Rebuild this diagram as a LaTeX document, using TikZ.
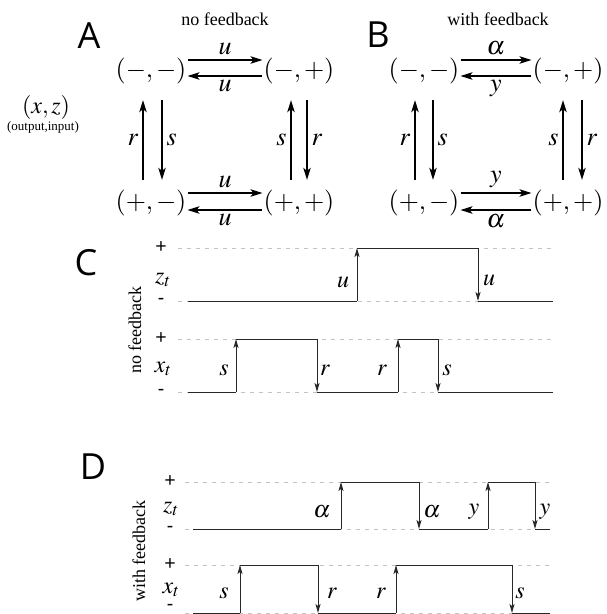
\documentclass[tikz,border=0pt]{standalone}
\usepackage{mathptmx}
\usepackage{fontspec}
\setmainfont{Liberation Serif}
\newfontfamily\panelfont{Open Sans}
\usetikzlibrary{arrows.meta}
\definecolor{guidecolor}{RGB}{195,195,195}
\definecolor{sigcolor}{RGB}{40,40,40}

\begin{document}
\begin{tikzpicture}[x=1pt,y=-1pt,
    state/.style={inner sep=1pt,font=\fontsize{26}{30}\selectfont},
    trans/.style={line width=1.1pt,-{Stealth[length=12pt,width=7.5pt,inset=3pt]}},
    tlab/.style={inner sep=0pt,font=\fontsize{26}{30}\selectfont},
    panel/.style={font=\panelfont\fontsize{36}{40}\selectfont},
    heading/.style={inner sep=0pt,font=\fontsize{18}{20}\selectfont},
    level/.style={inner sep=0pt,font=\panelfont\fontsize{20}{22}\selectfont},
    wlab/.style={inner sep=0pt,font=\fontsize{24}{28}\selectfont},
    guide/.style={guidecolor,line width=0.8pt,dash pattern=on 4pt off 5pt},
    sig/.style={sigcolor,line width=1pt},
    flip/.style={sig,-{Stealth[length=9pt,width=5pt,inset=2pt]}}]
    % Background
    \useasboundingbox (0,0) rectangle (606,614);
    
    % Panel A: no feedback
    \node[panel] (pA) at (89,36) {A};
    \node[heading] (tA) at (225,19) {no feedback};
    \node[inner sep=0pt,font=\fontsize{24}{28}\selectfont] (xz) at (46,107) {$(x,z)$};
    \node[inner sep=0pt,font=\fontsize{13}{15}\selectfont] (oi) at (43,127) {(output,input)};
    \node[state] (Amm) at (151,71) {$(-,-)$};
    \node[state] (Amp) at (299,71) {$(-,+)$};
    \node[state] (Apm) at (151,203) {$(+,-)$};
    \node[state] (App) at (299,203) {$(+,+)$};
    \draw[trans] ([yshift=11pt]Amm.east) -- ([yshift=11pt]Amp.west) node[midway,above=5pt,tlab] {$u$};
    \draw[trans] ([yshift=-5pt]Amp.west) -- ([yshift=-5pt]Amm.east) node[midway,below=4pt,tlab] {$u$};
    \draw[trans] ([yshift=10pt]Apm.east) -- ([yshift=10pt]App.west) node[midway,above=5pt,tlab] {$u$};
    \draw[trans] ([yshift=-7pt]App.west) -- ([yshift=-7pt]Apm.east) node[midway,below=4pt,tlab] {$u$};
    \draw[trans] ([xshift=-8pt,yshift=9pt]Apm.north) -- ([xshift=-8pt,yshift=-15pt]Amm.south) node[midway,left=4pt,tlab] {$r$};
    \draw[trans] ([xshift=11pt,yshift=-15pt]Amm.south) -- ([xshift=11pt,yshift=9pt]Apm.north) node[midway,right=4pt,tlab] {$s$};
    \draw[trans] ([xshift=-8pt,yshift=9pt]App.north) -- ([xshift=-8pt,yshift=-15pt]Amp.south) node[midway,left=4pt,tlab] {$s$};
    \draw[trans] ([xshift=8pt,yshift=-15pt]Amp.south) -- ([xshift=8pt,yshift=9pt]App.north) node[midway,right=4pt,tlab] {$r$};
    
    % Panel B: with feedback
    \node[panel] (pB) at (378,35) {B};
    \node[heading] (tB) at (498,19) {with feedback};
    \node[state] (Bmm) at (424,71) {$(-,-)$};
    \node[state] (Bmp) at (568,71) {$(-,+)$};
    \node[state] (Bpm) at (424,203) {$(+,-)$};
    \node[state] (Bpp) at (568,203) {$(+,+)$};
    \draw[trans] ([yshift=11pt]Bmm.east) -- ([yshift=11pt]Bmp.west) node[midway,above=5pt,tlab] {$\alpha$};
    \draw[trans] ([yshift=-5pt]Bmp.west) -- ([yshift=-5pt]Bmm.east) node[midway,below=4pt,tlab] {$y$};
    \draw[trans] ([yshift=10pt]Bpm.east) -- ([yshift=10pt]Bpp.west) node[midway,above=5pt,tlab] {$y$};
    \draw[trans] ([yshift=-7pt]Bpp.west) -- ([yshift=-7pt]Bpm.east) node[midway,below=4pt,tlab] {$\alpha$};
    \draw[trans] ([xshift=-9pt,yshift=9pt]Bpm.north) -- ([xshift=-9pt,yshift=-15pt]Bmm.south) node[midway,left=4pt,tlab] {$r$};
    \draw[trans] ([xshift=9pt,yshift=-15pt]Bmm.south) -- ([xshift=9pt,yshift=9pt]Bpm.north) node[midway,right=4pt,tlab] {$s$};
    \draw[trans] ([xshift=-5pt,yshift=9pt]Bpp.north) -- ([xshift=-5pt,yshift=-15pt]Bmp.south) node[midway,left=4pt,tlab] {$s$};
    \draw[trans] ([xshift=14pt,yshift=-15pt]Bmp.south) -- ([xshift=14pt,yshift=9pt]Bpp.north) node[midway,right=4pt,tlab] {$r$};
    
    % Panel C: time course, no feedback
    \node[panel] (pC) at (86,263) {C};
    \node[heading,rotate=90] (nC) at (135,330) {no feedback};
    \foreach \y in {248,301,339,392}
        \draw[guide] (178,\y) -- (553,\y);
    \node[level] (Czp) at (161,248) {+};
    \node[level] (Czm) at (161,301) {-};
    \node[level] (Cxp) at (161,339) {+};
    \node[level] (Cxm) at (161,392) {-};
    \node[wlab] (Cz) at (163,280) {$z_t$};
    \node[wlab] (Cx) at (163,369) {$x_t$};
    % z_t
    \draw[sig] (188,301) -- (357,301) (357,248) -- (478,248) (478,301) -- (553,301);
    \draw[flip] (357,301) -- (357,248);
    \draw[flip] (478,248) -- (478,301);
    % x_t
    \draw[sig] (188,392) -- (236,392) (236,339) -- (317,339) (317,392) -- (398,392)
        (398,339) -- (438,339) (438,392) -- (553,392);
    \draw[flip] (236,392) -- (236,339);
    \draw[flip] (317,339) -- (317,392);
    \draw[flip] (398,392) -- (398,339);
    \draw[flip] (438,339) -- (438,392);
    \foreach \x/\y/\t [count=\i] in {343/282/u, 489/280/u, 224/370/s, 325/370/r, 382/370/r, 447/370/s}
        \node[wlab] (Cl\i) at (\x,\y) {$\t$};
    
    % Panel D: time course, with feedback
    \node[panel] (pD) at (93,467) {D};
    \node[heading,rotate=90] (nD) at (139,551) {with feedback};
    \foreach \y in {482,529,565,613}
        \draw[guide] (185,\y) -- (550,\y);
    \node[level] (Dzp) at (170,482) {+};
    \node[level] (Dzm) at (170,529) {-};
    \node[level] (Dxp) at (170,565) {+};
    \node[level] (Dxm) at (170,607) {-};
    \node[wlab] (Dz) at (171,509) {$z_t$};
    \node[wlab] (Dx) at (171,590) {$x_t$};
    % z_t
    \draw[sig] (193,529) -- (341,529) (341,482) -- (419,482) (419,529) -- (488,529)
        (488,482) -- (535,482) (535,529) -- (550,529);
    \draw[flip] (341,529) -- (341,482);
    \draw[flip] (419,482) -- (419,529);
    \draw[flip] (488,529) -- (488,482);
    \draw[flip] (535,482) -- (535,529);
    % x_t
    \draw[sig] (193,613) -- (240,613) (240,565) -- (318,565) (318,613) -- (396,613)
        (396,565) -- (512,565) (512,613) -- (550,613);
    \draw[flip] (240,613) -- (240,565);
    \draw[flip] (318,565) -- (318,613);
    \draw[flip] (396,613) -- (396,565);
    \draw[flip] (512,565) -- (512,613);
    \foreach \x/\y/\t [count=\i] in {322/512/\alpha, 432/512/\alpha, 474/512/y, 545/512/y, 224/593/s, 332/593/r, 381/593/r, 520/593/s}
        \node[wlab] (Dl\i) at (\x,\y) {$\t$};
\end{tikzpicture}
\end{document}
